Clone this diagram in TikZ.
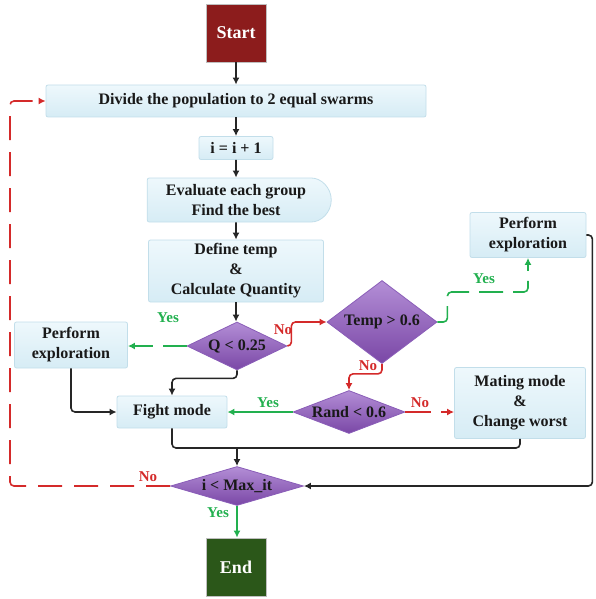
\documentclass[tikz,border=0pt]{standalone}
\usepackage{fontspec}
\setmainfont{Liberation Serif}
\usetikzlibrary{arrows.meta,shapes.geometric,shapes.misc}

\definecolor{startred}{HTML}{8C1C1C}
\definecolor{endgreen}{HTML}{2B5719}
\definecolor{boxtop}{HTML}{EEF8FC}
\definecolor{boxbot}{HTML}{D6ECF5}
\definecolor{boxline}{HTML}{C2DEEA}
\definecolor{diatop}{HTML}{B38ED6}
\definecolor{diabot}{HTML}{7A47A6}
\definecolor{dialine}{HTML}{8A5DB8}
\definecolor{nored}{HTML}{D42A2A}
\definecolor{yesgreen}{HTML}{22B04F}

\begin{document}
\begin{tikzpicture}[x=1pt, y=-1pt, >={Latex[length=7pt,width=7pt]},
    txt/.style={font=\fontsize{16}{20}\selectfont\bfseries, text=black!90},
    procbox/.style={txt, draw=boxline, line width=0.8pt, top color=boxtop, bottom color=boxbot,
        rounded corners=2pt, inner sep=0pt, align=center},
    termbox/.style={font=\fontsize{18}{20}\selectfont\bfseries, text=white, draw=black!25,
        line width=0.8pt, minimum width=60pt, minimum height=58pt, inner sep=0pt},
    decision/.style={txt, diamond, draw=dialine, line width=0.8pt, top color=diatop,
        bottom color=diabot, inner sep=0pt},
    link/.style={line width=1.6pt, black!85, rounded corners=4pt},
    flow/.style={link, ->},
    noflow/.style={->, line width=1.6pt, nored, rounded corners=4pt},
    yesflow/.style={->, line width=1.6pt, yesgreen, rounded corners=4pt},
    nolabel/.style={font=\fontsize{15}{16}\selectfont\bfseries, text=nored},
    yeslabel/.style={font=\fontsize{15}{16}\selectfont\bfseries, text=yesgreen}]
    \useasboundingbox (0,0) rectangle (595,599);
    % --- 1. Main column ---
    \node[termbox, fill=startred] (start) at (236,33) {Start};
    \node[procbox, minimum width=380pt, minimum height=32pt] (divide) at (236,101) {Divide the population to 2 equal swarms};
    \node[procbox, minimum width=74pt, minimum height=23pt] (incr) at (236,148) {i = i + 1};
    \node[procbox, rounded rectangle, rounded rectangle left arc=none, minimum width=184pt,
        minimum height=44pt] (evaluate) at (236,200) {Evaluate each group\\Find the best};
    \node[procbox, minimum width=175pt, minimum height=62pt] (define) at (236,271) {Define temp\\\&\\Calculate Quantity};
    \node[decision, aspect=2.1, minimum width=100pt, minimum height=48pt] (qtest) at (237,346) {Q < 0.25};
    % --- 2. Branches ---
    \node[procbox, minimum width=113pt, minimum height=46pt] (exploreL) at (71,345) {Perform\\exploration};
    \node[procbox, minimum width=110pt, minimum height=32pt] (fight) at (172,412) {Fight mode};
    \node[decision, aspect=1.3, minimum width=110pt, minimum height=83pt] (temptest) at (382,322) {Temp > 0.6};
    \node[procbox, minimum width=116pt, minimum height=45pt] (exploreR) at (528,235) {Perform\\exploration};
    \node[decision, aspect=2.6, minimum width=112pt, minimum height=43pt] (randtest) at (349,412) {Rand < 0.6};
    \node[procbox, minimum width=131pt, minimum height=71pt] (mating) at (520,403) {Mating mode\\\&\\Change worst};
    % --- 3. Stop test ---
    \node[decision, aspect=3.4, minimum width=133pt, minimum height=39pt] (maxtest) at (237,486) {i < Max\_it};
    \node[termbox, fill=endgreen] (finish) at (236,567) {End};
    \coordinate (merge) at (237,448);
    \coordinate (loopx) at (10,0);
    % --- 4. Connectors ---
    \draw[flow] (start) -- (divide);
    \draw[flow] (divide) -- (incr);
    \draw[flow] (incr) -- (evaluate);
    \draw[flow] (evaluate) -- (define);
    \draw[flow] (define.south) -- (define.south |- qtest.north);
    \draw[yesflow, dash pattern=on 24pt off 10pt] (qtest.west) -- (qtest.west -| exploreL.east);
    \node[yeslabel] (yesq) at (168,318) {Yes};
    \draw[noflow] (qtest.east) -- ++(4,0) |- (temptest.west);
    \node[nolabel] (noq) at (283,330) {No};
    \draw[yesflow, dash pattern=on 24pt off 10pt] (temptest.east) -- ++(10,0) -- ++(0,-30) -| (exploreR.south);
    \node[yeslabel] (yest) at (484,279) {Yes};
    \draw[noflow] (temptest.south) -- ++(0,10) -| (randtest.north);
    \node[nolabel] (not) at (368,366) {No};
    \draw[yesflow] (randtest.west) -- (fight.east);
    \node[yeslabel] (yesr) at (268,403) {Yes};
    \draw[noflow, dash pattern=on 26pt off 10pt] (randtest.east) -- (randtest.east -| mating.west);
    \node[nolabel] (nor) at (420,403) {No};
    \draw[flow] (exploreL.south) |- (fight.west);
    \draw[flow] (qtest.south) -- ++(0,8) -| (fight.north);
    \draw[link] (fight.south) |- (merge);
    \draw[link] (mating.south) |- (merge);
    \draw[flow] (merge) -- (maxtest.north);
    \draw[flow] (exploreR.east) -- ++(6,0) |- (maxtest.east);
    \draw[noflow, dash pattern=on 24pt off 12pt] (maxtest.west) -- (maxtest.west -| loopx) |- (divide.west);
    \node[nolabel] (nom) at (148,477) {No};
    \draw[yesflow] (maxtest.south) -- (maxtest.south |- finish.north);
    \node[yeslabel] (yesm) at (218,513) {Yes};
\end{tikzpicture}
\end{document}
